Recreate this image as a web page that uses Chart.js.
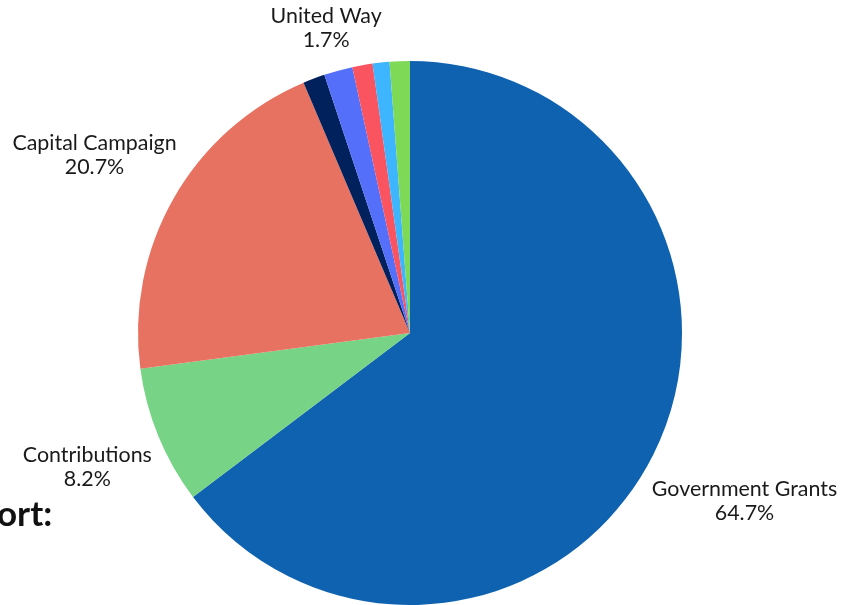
<!DOCTYPE html>
<html>
<head>
<meta charset="utf-8">
<script src="https://cdn.jsdelivr.net/npm/chart.js@4.4.0/dist/chart.umd.min.js"></script>
<style>
  html, body { margin: 0; padding: 0; background: #fff; overflow: hidden; }
  #wrap { position: relative; width: 853px; height: 605px; }
  #side { position: absolute; left: -3px; top: 491px; font: bold 35px Lato, sans-serif; color: #111; }
</style>
</head>
<body>
<div id="wrap">
  <div id="side">ort:</div>
  <canvas id="pie" width="853" height="605"></canvas>
</div>
<script>
// slices, clockwise from the top
const categories = ['Government Grants', 'Contributions', 'Capital Campaign', 'Other 1', 'United Way', 'Other 2', 'Other 3', 'Other 4'];
const values = [64.7, 8.2, 20.7, 1.3, 1.7, 1.2, 1.0, 1.2];
const showLabel = [true, true, true, false, true, false, false, false];
const colors = ['#0f62b0', '#77d385', '#e87262', '#00215b', '#5470fa', '#fa5460', '#3db5ff', '#7ed957'];

// outside labels: name + percent
const outsideLabels = {
    id: 'outsideLabels',
    afterDatasetsDraw(chart) {
        const ctx = chart.ctx;
        const arcs = chart.getDatasetMeta(0).data;
        ctx.save();
        ctx.font = '21.4px Lato, sans-serif';
        ctx.fillStyle = '#1a1a1a';
        ctx.textAlign = 'center';
        ctx.textBaseline = 'middle';
        const lineH = 24;
        arcs.forEach((arc, i) => {
            if (!showLabel[i]) return;
            const p = arc.getProps(['x', 'y', 'startAngle', 'endAngle', 'outerRadius']);
            const mid = (p.startAngle + p.endAngle) / 2;
            const lines = [categories[i], values[i].toFixed(1) + '%'];
            const w = Math.max(...lines.map(l => ctx.measureText(l).width));
            const dx = Math.cos(mid), dy = Math.sin(mid);
            const ext = (w / 2) * Math.abs(dx) + lineH * Math.abs(dy);
            const d = p.outerRadius + 8 + ext;
            const cx = p.x + dx * d, cy = p.y + dy * d + 2;
            ctx.fillText(lines[0], cx, cy - lineH / 2);
            ctx.fillText(lines[1], cx, cy + lineH / 2);
        });
        ctx.restore();
    }
};

new Chart(document.getElementById('pie').getContext('2d'), {
    type: 'pie',
    data: {
        labels: categories,
        datasets: [{
            data: values,
            backgroundColor: colors,
            borderWidth: 0
        }]
    },
    options: {
        responsive: false,
        animation: false,
        layout: { padding: { top: 61, bottom: 0, left: 0, right: 33 } },
        plugins: {
            legend: { display: false },
            tooltip: { enabled: false }
        }
    },
    plugins: [outsideLabels]
});
</script>
</body>
</html>
